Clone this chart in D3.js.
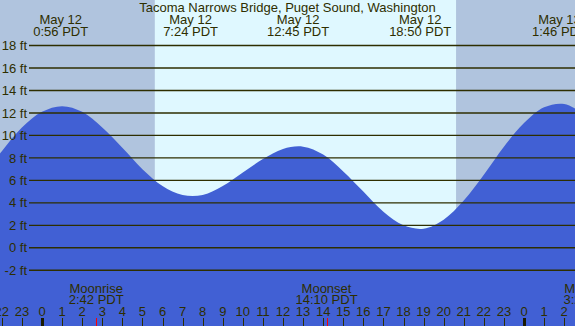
<!DOCTYPE html>
<html>
<head>
<meta charset="utf-8">
<script src="https://cdn.jsdelivr.net/npm/d3@7"></script>
<style>
  html, body { margin: 0; padding: 0; background: #fff; }
  svg { display: block; }
  text { font-family: "Liberation Sans", Arial, sans-serif; font-size: 13px; fill: #2e2e00; }
</style>
</head>
<body>
<svg id="chart" width="575" height="326"></svg>
<script>
// ---- data ----
const title = "Tacoma Narrows Bridge, Puget Sound, Washington";
// hours since midnight May 12 (PDT)
const hours = [-3, -2, -1, 0, 1, 2, 3, 4, 5, 6, 7, 8, 9, 10, 11, 12, 13, 14, 15, 16, 17, 18, 19, 20, 21, 22, 23, 24, 25, 26, 27];
const heights = [6.3, 8.6, 10.7, 12.1, 12.6, 12.1, 10.7, 8.9, 7.0, 5.5, 4.7, 4.7, 5.5, 6.7, 7.9, 8.8, 9.0, 8.3, 6.8, 5.0, 3.2, 2.0, 1.7, 2.5, 4.2, 6.5, 9.0, 11.1, 12.5, 12.8, 11.9];
const extremeHours = [0.933, 7.4, 12.75, 18.833, 25.767];
const extremeDates = ["May 12", "May 12", "May 12", "May 12", "May 13"];
const extremeTimes = ["0:56 PDT", "7:24 PDT", "12:45 PDT", "18:50 PDT", "1:46 PDT"];
const sunHours = [5.617, 20.617];          // sunrise, sunset
const moonHours = [2.7, 14.167, 27.333];
const moonNames = ["Moonrise", "Moonset", "Moonrise"];
const moonTimes = ["2:42 PDT", "14:10 PDT", "3:20 PDT"];
const yTicks = [-2, 0, 2, 4, 6, 8, 10, 12, 14, 16, 18];
const hourTicks = d3.range(-2, 27);

// ---- layout ----
const W = 575, H = 326;
const svg = d3.select("#chart");
const x = d3.scaleLinear().domain([0, 24]).range([42, 524]);
const y = d3.scaleLinear().domain([-2, 18]).range([270.3, 45.5]);

// backgrounds: night / day
svg.append("rect").attr("x", 0).attr("y", 0).attr("width", W).attr("height", H).attr("fill", "#b0c4de");
svg.append("rect").attr("x", x(sunHours[0])).attr("y", 0)
  .attr("width", x(sunHours[1]) - x(sunHours[0])).attr("height", H).attr("fill", "#dff8ff");

// water
const pts = hours.map((h, i) => [h, heights[i]]);
const area = d3.area().x(d => x(d[0])).y0(H).y1(d => y(d[1])).curve(d3.curveCatmullRom.alpha(0.5));
svg.append("path").datum(pts).attr("d", area).attr("fill", "#4160d4");

// grid lines + labels
svg.append("g").selectAll("line").data(yTicks).join("line")
  .attr("x1", 29).attr("x2", W).attr("y1", d => y(d)).attr("y2", d => y(d))
  .attr("stroke", "#2e2e00").attr("stroke-width", 1.4);
svg.append("g").selectAll("text").data(yTicks).join("text")
  .attr("x", 27).attr("y", d => y(d) + 4.6).attr("text-anchor", "end")
  .text(d => d + " ft");

// title
svg.append("text").attr("x", W / 2).attr("y", 12).attr("text-anchor", "middle").text(title);

// extremes labels
const ex = svg.append("g");
extremeHours.forEach((h, i) => {
  ex.append("text").attr("x", x(h)).attr("y", 24).attr("text-anchor", "middle").text(extremeDates[i]);
  ex.append("text").attr("x", x(h)).attr("y", 36).attr("text-anchor", "middle").text(extremeTimes[i]);
});

// moon labels
const mg = svg.append("g");
moonHours.forEach((h, i) => {
  mg.append("text").attr("x", x(h)).attr("y", 292.5).attr("text-anchor", "middle").text(moonNames[i]);
  mg.append("text").attr("x", x(h)).attr("y", 304).attr("text-anchor", "middle").text(moonTimes[i]);
});

// hour ticks + labels
const hg = svg.append("g");
hg.selectAll("line").data(hourTicks).join("line")
  .attr("x1", d => Math.round(x(d)) + 0.5).attr("x2", d => Math.round(x(d)) + 0.5)
  .attr("y1", 318).attr("y2", H)
  .attr("stroke", d => ((d % 24) + 24) % 24 === 0 ? "#1a1a00" : "#2e2e00")
  .attr("stroke-width", d => ((d % 24) + 24) % 24 === 0 ? 3 : 1);
hg.selectAll("text").data(hourTicks).join("text")
  .attr("x", d => x(d)).attr("y", 316).attr("text-anchor", "middle")
  .text(d => ((d % 24) + 24) % 24);

// moon event ticks (red)
svg.append("g").selectAll("line").data(moonHours).join("line")
  .attr("x1", d => Math.round(x(d)) + 0.5).attr("x2", d => Math.round(x(d)) + 0.5)
  .attr("y1", 318).attr("y2", H).attr("stroke", "#ff0000").attr("stroke-width", 1);
</script>
</body>
</html>
